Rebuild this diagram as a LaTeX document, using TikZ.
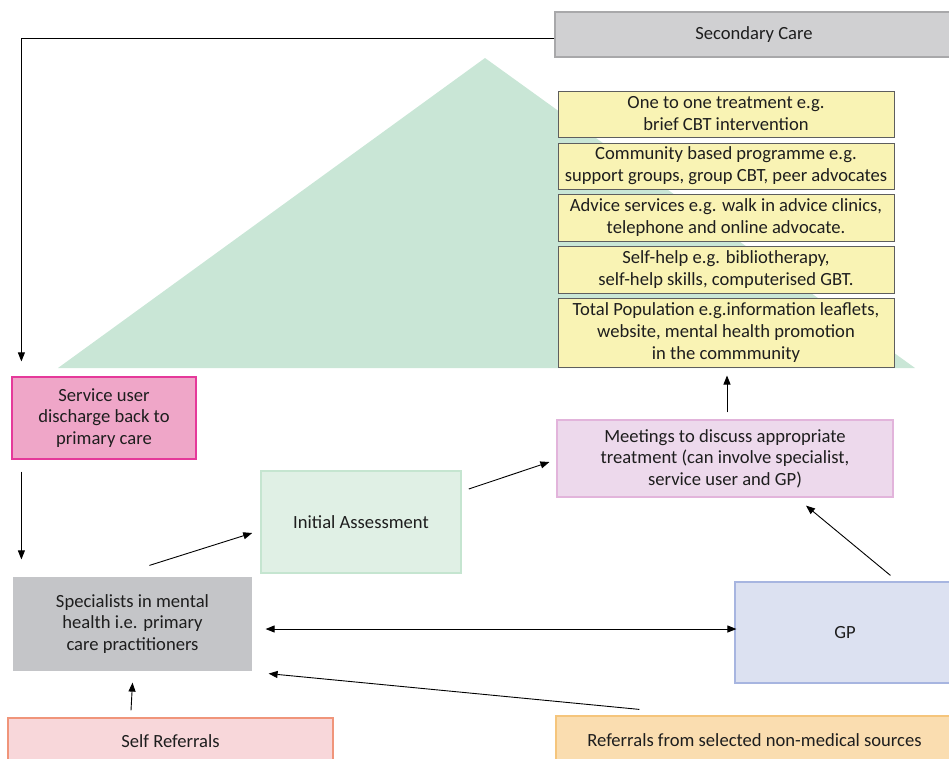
\documentclass[tikz,border=0pt]{standalone}
\usepackage{fontspec}
\setmainfont{Carlito}
\usetikzlibrary{arrows.meta}
\definecolor{txt}{HTML}{1E1E1E}
\definecolor{secF}{HTML}{D0D0D2}\definecolor{secD}{HTML}{A8A8AA}
\definecolor{yelF}{HTML}{F9F3B4}\definecolor{yelD}{HTML}{5E5E5E}
\definecolor{triF}{HTML}{C9E6D6}
\definecolor{pinkF}{HTML}{EFA6C8}\definecolor{pinkD}{HTML}{E5399A}
\definecolor{specF}{HTML}{C4C5C8}
\definecolor{initF}{HTML}{E0F0E5}\definecolor{initD}{HTML}{C5E5D0}
\definecolor{meetF}{HTML}{EDD9EC}\definecolor{meetD}{HTML}{E2B4DB}
\definecolor{gpF}{HTML}{DCE1F1}\definecolor{gpD}{HTML}{A7B5E0}
\definecolor{selfF}{HTML}{F8D7DA}\definecolor{selfD}{HTML}{F0957A}
\definecolor{nmF}{HTML}{FADDB0}\definecolor{nmD}{HTML}{F5C57C}
\tikzset{
  box/.style={rectangle, inner sep=0pt, align=center, text=txt,
    font=\fontsize{18.6}{21.5}\selectfont, line width=1.2pt},
  ybox/.style={box, fill=yelF, draw=yelD, line width=1pt, minimum width=336pt,
    font=\fontsize{18.6}{22}\selectfont},
  arr/.style={draw=black, line width=0.9pt, -{Triangle[length=9pt,width=7pt]}},
  darr/.style={draw=black, line width=0.9pt, {Triangle[length=9pt,width=7pt]}-{Triangle[length=9pt,width=7pt]}}
}
\begin{document}
\begin{tikzpicture}[x=1pt,y=-1pt]
\useasboundingbox (0,0) rectangle (949,758);
\clip (0,0) rectangle (949,758);
% pyramid
\fill[triF] (485,58) -- (915,368) -- (58,368) -- cycle;
% nodes
\node[box, fill=secF, draw=secD, minimum width=398pt, minimum height=45pt] (sec) at (754,34.5) {Secondary Care};
\node[ybox, minimum height=46pt] (one) at (726,114) {One to one treatment e.g.\\brief CBT intervention};
\node[ybox, minimum height=46pt] (comm) at (726,166) {Community based programme e.g.\\support groups, group CBT, peer advocates};
\node[ybox, minimum height=47pt] (adv) at (726,217.5) {Advice services e.g. walk in advice clinics,\\telephone and online advocate.};
\node[ybox, minimum height=47pt] (selfh) at (726,269.5) {Self-help e.g. bibliotherapy,\\self-help skills, computerised GBT.};
\node[ybox, minimum height=69pt] (pop) at (726,332.5) {Total Population e.g.information leaflets,\\website, mental health promotion\\in the commmunity};
\node[box, fill=pinkF, draw=pinkD, minimum width=184pt, minimum height=82pt] (dis) at (104,418) {Service user\\discharge back to\\primary care};
\node[box, fill=specF, minimum width=239pt, minimum height=94pt] (spec) at (132.5,624) {Specialists in mental\\health i.e. primary\\care practitioners};
\node[box, fill=initF, draw=initD, line width=1.6pt, minimum width=200pt, minimum height=102pt] (init) at (361,522) {Initial Assessment};
\node[box, fill=meetF, draw=meetD, minimum width=336pt, minimum height=77pt] (meet) at (725,458.5) {Meetings to discuss appropriate\\treatment (can involve specialist,\\service user and GP)};
\node[box, fill=gpF, draw=gpD, minimum width=220pt, minimum height=101pt] (gp) at (845,632.5) {GP};
\node[box, fill=selfF, draw=selfD, minimum width=325pt, minimum height=46pt] (selfr) at (170.5,741) {Self Referrals};
\node[box, fill=nmF, draw=nmD, minimum width=397pt, minimum height=48pt] (nm) at (754.5,740) {Referrals from selected non-medical sources};
% connectors
\draw[arr, shorten >=15pt] ([yshift=-3.5pt]sec.west) -| ([xshift=10pt]dis.north west);
\draw[arr, shorten <=12pt, shorten >=17pt] ([xshift=10pt]dis.south west) -- ([xshift=9pt]spec.north west);
\draw[arr, shorten <=7pt, shorten >=8pt] ([xshift=2pt]meet.north) -- ([xshift=1pt]pop.south);
\draw[arr] ([xshift=137pt,yshift=11pt]spec.north west) -- ([xshift=-8pt,yshift=-11pt]init.west);
\draw[arr] ([xshift=7pt,yshift=33pt]init.east) -- ([xshift=-7pt,yshift=-3.5pt]meet.west);
\draw[arr] ([xshift=156pt,yshift=6pt]gp.north west) -- ([xshift=81pt,yshift=-8pt]meet.south);
\draw[darr] ([xshift=13pt,yshift=-5pt]spec.east) -- ([xshift=2pt,yshift=3.5pt]gp.west);
\draw[arr] ([xshift=84pt,yshift=6pt]nm.north west) -- ([xshift=16pt,yshift=-2pt]spec.south east);
\draw[arr] ([xshift=-39.5pt,yshift=7pt]selfr.north) -- ([yshift=-11pt]spec.south);
\end{tikzpicture}
\end{document}
